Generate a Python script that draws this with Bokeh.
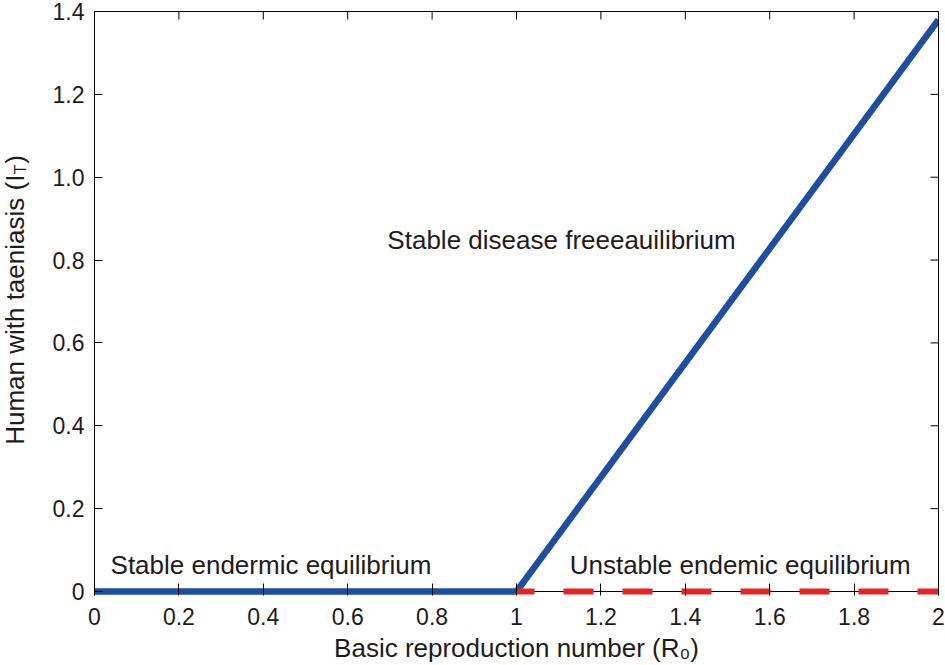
from math import pi
from bokeh.plotting import figure
from bokeh.layouts import row
from bokeh.models import Range1d, LinearAxis, FixedTicker, Span
from bokeh.core.properties import value
from bokeh.embed import file_html
from bokeh.resources import INLINE

# ---- data ----
r0_curve = [0.0, 1.0, 2.0]
it_curve = [0.0, 0.0, 1.38]
r0_unstable = [1.0, 2.0]
it_unstable = [0.0, 0.0]

x_ticks = [0, 0.2, 0.4, 0.6, 0.8, 1, 1.2, 1.4, 1.6, 1.8, 2]
x_tick_labels = ["0", "0.2", "0.4", "0.6", "0.8", "1", "1.2", "1.4", "1.6", "1.8", "2"]
y_ticks = [0, 0.2, 0.4, 0.6, 0.8, 1, 1.2, 1.4]
y_tick_labels = ["0", "0.2", "0.4", "0.6", "0.8", "1.0", "1.2", "1.4"]

x_title = "Basic reproduction number (R\u2080)"
y_title_main = "Human with taeniasis (I"
y_title_sub = "T"
y_title_end = ")"

ann_texts = ["Stable disease freeeauilibrium", "Stable endermic equilibrium", "Unstable endemic equilibrium"]
ann_x = [0.694, 0.038, 1.126]
ann_y = [0.849, 0.065, 0.065]

FONT = "Liberation Sans"
TXT = "#1e1b1c"
BLUE = "#1f4e9f"
RED = "#e32526"

# ---- layout constants ----
W, H = 945, 665
TITLE_W = 32
TOP, BOTTOM = 11, 69
FRAME_H = H - TOP - BOTTOM
PAD_PX = 4                             # line half thickness below y=0 kept visible
Y_MAX = 1.4
pad = PAD_PX * Y_MAX / (FRAME_H - PAD_PX)
PPU_Y = (FRAME_H - PAD_PX) / Y_MAX

yr = Range1d(-pad, Y_MAX)

p = figure(width=W - TITLE_W, height=H, x_range=Range1d(0, 2), y_range=yr,
           output_backend="svg", toolbar_location=None,
           min_border_left=94 - TITLE_W, min_border_right=7,
           min_border_top=TOP, min_border_bottom=BOTTOM)
p.xgrid.visible = False
p.ygrid.visible = False
p.outline_line_color = None
p.background_fill_color = "white"
p.border_fill_color = "white"


def key(t):
    return int(t) if float(t).is_integer() else t


def style_axis(ax, ticks, labels):
    ax.ticker = FixedTicker(ticks=ticks)
    ax.major_label_overrides = {key(t): l for t, l in zip(ticks, labels)}
    ax.major_tick_out = 0
    ax.minor_tick_in = 0
    ax.minor_tick_out = 0
    ax.axis_line_color = "black"
    ax.major_tick_line_color = "black"
    ax.major_label_text_font = FONT
    ax.major_label_text_color = TXT
    ax.major_label_text_font_size = "23px"


xa = p.xaxis[0]
ya = p.yaxis[0]
style_axis(xa, x_ticks, x_tick_labels)
style_axis(ya, y_ticks, y_tick_labels)
xa.major_tick_in = 8 + PAD_PX
ya.major_tick_in = 8
xa.axis_line_color = None
xa.major_label_standoff = 12
ya.major_label_standoff = 10
xa.axis_label = x_title
xa.axis_label_text_font = FONT
xa.axis_label_text_font_size = "26px"
xa.axis_label_text_font_style = "normal"
xa.axis_label_text_color = TXT
xa.axis_label_standoff = 5

# top / right box edges (no labels); inward ticks drawn as short screen-length rays
for side in ("above", "right"):
    ax = LinearAxis(ticker=FixedTicker(ticks=[]), axis_line_color="black",
                    major_tick_in=0, major_tick_out=0, minor_tick_in=0, minor_tick_out=0)
    p.add_layout(ax, side)
p.ray(x=x_ticks, y=Y_MAX, length=8, length_units="screen", angle=-pi / 2,
      line_color="black", line_width=1)
p.ray(x=2, y=y_ticks, length=8, length_units="screen", angle=pi,
      line_color="black", line_width=1)

# bottom axis line at y = 0 (beneath the thick curves)
p.add_layout(Span(location=0, dimension="width", line_color="black", line_width=1,
                  level="underlay"))

# ---- lines ----
p.line(r0_curve, it_curve, line_color=BLUE, line_width=6.5)
p.line(r0_unstable, it_unstable, line_color=RED, line_width=6,
       line_dash="30 29", line_dash_offset=12)

# ---- annotations ----
p.text(x=ann_x, y=ann_y, text=ann_texts, text_font=value(FONT), text_font_size="26px",
       text_color=TXT, text_align="left", text_baseline="middle")

# ---- y-axis title (separate narrow figure sharing the y range) ----
t = figure(width=TITLE_W, height=H, x_range=Range1d(0, TITLE_W), y_range=yr,
           output_backend="svg", toolbar_location=None,
           x_axis_type=None, y_axis_type=None,
           min_border_left=0, min_border_right=0, min_border_top=TOP, min_border_bottom=BOTTOM)
t.xgrid.visible = False
t.ygrid.visible = False
t.outline_line_color = None
t.border_fill_color = "white"
t.background_fill_color = "white"

ylab_y0 = 0.354
main_w = 270.2 / PPU_Y
sub_w = 9.8 / PPU_Y
t.text(x=[14], y=[ylab_y0], text=[y_title_main], angle=pi / 2,
       text_font=value(FONT), text_font_size="26px", text_color=TXT,
       text_align="left", text_baseline="middle")
t.text(x=[20], y=[ylab_y0 + main_w + 0.002], text=[y_title_sub], angle=pi / 2,
       text_font=value(FONT), text_font_size="16px", text_color=TXT,
       text_align="left", text_baseline="middle")
t.text(x=[14], y=[ylab_y0 + main_w + sub_w + 0.004], text=[y_title_end], angle=pi / 2,
       text_font=value(FONT), text_font_size="26px", text_color=TXT,
       text_align="left", text_baseline="middle")

layout = row(t, p, spacing=0)
open("out.html", "w").write(file_html(layout, INLINE))
